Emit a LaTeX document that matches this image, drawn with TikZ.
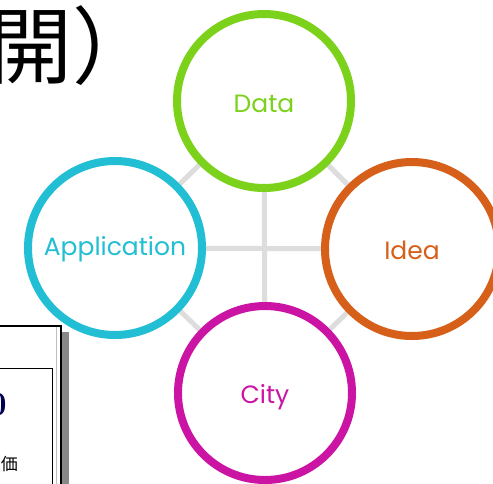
\documentclass[tikz,border=0pt]{standalone}
\usepackage{fontspec}
\newfontfamily\circfont{Poppins}
\newfontfamily\cjk{Noto Sans CJK JP}
\definecolor{cdata}{HTML}{7CD21A}
\definecolor{capp}{HTML}{22BED4}
\definecolor{cidea}{HTML}{D6601A}
\definecolor{ccity}{HTML}{CC14A4}
\definecolor{clink}{HTML}{DDDDDD}
\definecolor{cshadow}{HTML}{888888}
\tikzset{
  bubble/.style={circle, draw=#1, line width=8pt, fill=white, minimum size=174pt, inner sep=0pt},
  bubbletext/.style={text=#1, inner sep=0pt, font=\circfont\fontsize{25}{28}\selectfont},
  link/.style={draw=clink, line width=5pt},
}
\begin{document}
\begin{tikzpicture}[x=1pt,y=-1pt]
\useasboundingbox (0,0) rectangle (493,483);
\clip (0,0) rectangle (493,483);
\fill[white] (0,0) rectangle (493,483);
% heading fragment
\node[anchor=base west, inner sep=0pt, font=\cjk\fontsize{84}{88}\selectfont] (head) at (-12,77) {開）};
% partial panel at bottom left
\fill[cshadow] (-10,332) rectangle (69,490);
\draw[black, line width=1.5pt, fill=white] (-10,326) rectangle (61,490);
\draw[black!25, line width=1pt] (56,327) -- (56,490);
\draw[black, line width=1pt] (-10,368) rectangle (52,490);
\node[anchor=east, inner sep=0pt, text=blue!30!black, font=\bfseries\fontsize{34}{36}\selectfont] (zero) at (7,405) {0};
\node[anchor=east, inner sep=0pt, font=\cjk\fontsize{17}{18}\selectfont] (ka) at (18,464) {価};
% circles
\coordinate (cdataC) at (264,101);
\coordinate (cappC) at (115,248);
\coordinate (cideaC) at (412,249);
\coordinate (ccityC) at (265,393);
\draw[link] (cdataC) -- (cappC) -- (ccityC) -- (cideaC) -- cycle;
\draw[link] (cdataC) -- (ccityC);
\draw[link] (cappC) -- (cideaC);
\node[bubble=cdata] (data) at (cdataC) {};
\node[bubble=capp] (app) at (cappC) {};
\node[bubble=cidea] (idea) at (cideaC) {};
\node[bubble=ccity] (city) at (ccityC) {};
\node[bubbletext=cdata] (datatext) at ([yshift=-3pt]data.center) {Data};
\node[bubbletext=capp] (apptext) at ([yshift=-1pt]app.center) {Application};
\node[bubbletext=cidea] (ideatext) at ([yshift=-1pt]idea.center) {Idea};
\node[bubbletext=ccity] (citytext) at ([yshift=-4pt]city.center) {City};
\end{tikzpicture}
\end{document}
